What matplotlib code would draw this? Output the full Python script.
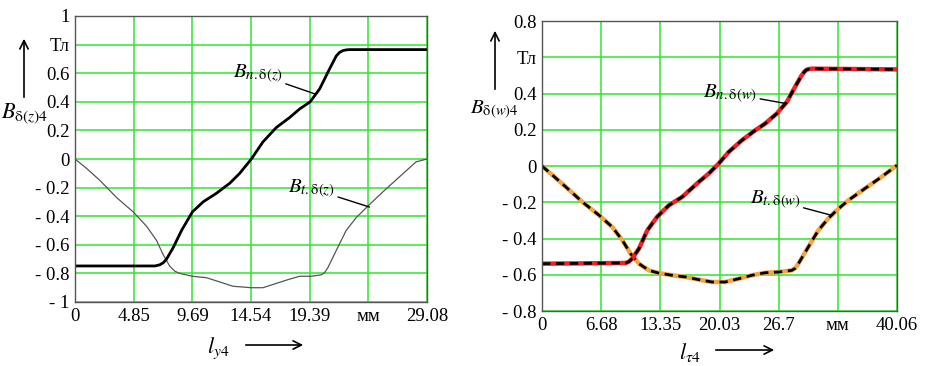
import numpy as np
import matplotlib.pyplot as plt
from matplotlib.patches import FancyArrowPatch

plt.rcParams['font.family'] = ['Liberation Serif', 'DejaVu Serif']
plt.rcParams['mathtext.fontset'] = 'stix'

# ---- left panel data (z) ----
xn_z = [0, 6.60, 7.00, 7.30, 7.56, 8.11, 8.80, 9.70, 10.58, 11.68, 12.78, 13.61, 14.57,
        15.53, 16.63, 17.73, 18.56, 19.43, 20.21, 21.03, 21.58, 21.85, 22.13, 22.40, 22.68, 29.08]
bn_z = [-0.748, -0.748, -0.74, -0.725, -0.70, -0.62, -0.50, -0.37, -0.30, -0.24, -0.17, -0.10, 0.0,
        0.12, 0.22, 0.29, 0.35, 0.40, 0.49, 0.63, 0.72, 0.745, 0.758, 0.763, 0.765, 0.765]

xt_z = [0, 0.96, 2.06, 3.44, 4.81, 5.91, 6.74, 7.29, 7.83, 8.25, 8.66, 9.70, 10.86, 11.96,
        13.06, 14.57, 15.53, 16.63, 17.73, 18.56, 19.52, 20.34, 20.62, 20.89, 21.58, 22.40,
        23.23, 24.25, 25.43, 26.80, 28.18, 29.08]
bt_z = [0.0, -0.066, -0.15, -0.27, -0.37, -0.47, -0.57, -0.67, -0.75, -0.785, -0.80, -0.82,
        -0.83, -0.86, -0.89, -0.90, -0.90, -0.87, -0.84, -0.82, -0.82, -0.81, -0.795, -0.76,
        -0.64, -0.50, -0.41, -0.325, -0.23, -0.125, -0.02, 0.0]

xticks_z = [0, 4.85, 9.69, 14.54, 19.39, 24.23, 29.08]
xticklabels_z = ['0', '4.85', '9.69', '14.54', '19.39', 'мм', '29.08']
yticks_z = [-1, -0.8, -0.6, -0.4, -0.2, 0, 0.2, 0.4, 0.6, 0.8, 1]
yticklabels_z = ['- 1', '- 0.8', '- 0.6', '- 0.4', '- 0.2', '0', '0.2', '0.4', '0.6', 'Тл', '1']

# ---- right panel data (w) ----
xn_w = [0, 9.44, 9.80, 10.19, 10.94, 11.88, 13.00, 14.31, 15.81, 17.69, 18.81, 19.93,
        21.06, 22.56, 24.06, 25.18, 26.49, 27.62, 28.55, 29.30, 29.60, 29.86, 30.15, 30.43, 40.06]
bn_w = [-0.539, -0.535, -0.528, -0.51, -0.456, -0.355, -0.28, -0.217, -0.171, -0.088, -0.042,
        0.013, 0.077, 0.142, 0.197, 0.234, 0.289, 0.353, 0.436, 0.50, 0.52, 0.531, 0.535, 0.537, 0.533]

xt_w = [0, 1.20, 2.70, 4.57, 6.45, 7.94, 9.07, 10.00, 10.94, 12.07, 13.11, 14.69,
        16.19, 17.69, 19.18, 20.68, 22.18, 23.68, 25.18, 26.68, 28.18, 28.55, 28.93, 30.05,
        31.18, 32.30, 33.24, 34.55, 36.42, 38.29, 40.06]
bt_w = [0.0, -0.051, -0.116, -0.199, -0.272, -0.337, -0.41, -0.484, -0.539, -0.576,
        -0.59, -0.603, -0.612, -0.627, -0.64, -0.64, -0.622, -0.603, -0.589, -0.585,
        -0.576, -0.565, -0.539, -0.447, -0.355, -0.29, -0.245, -0.19, -0.125, -0.061, 0.004]

xticks_w = [0, 6.68, 13.35, 20.03, 26.7, 33.38, 40.06]
xticklabels_w = ['0', '6.68', '13.35', '20.03', '26.7', 'мм', '40.06']
yticks_w = [-0.8, -0.6, -0.4, -0.2, 0, 0.2, 0.4, 0.6, 0.8]
yticklabels_w = ['- 0.8', '- 0.6', '- 0.4', '- 0.2', '0', '0.2', '0.4', 'Тл', '0.8']

W, H = 932, 366
fig = plt.figure(figsize=(W / 100, H / 100), dpi=100)


def px_axes(x0, y0, x1, y1):
    # pixel box (top-left origin) -> figure fraction
    return fig.add_axes([x0 / W, 1 - y1 / H, (x1 - x0) / W, (y1 - y0) / H])


def style_axes(ax, xlim, ylim, xt, xtl, yt, ytl):
    ax.set_xlim(*xlim)
    ax.set_ylim(*ylim)
    ax.set_xticks(xt)
    ax.set_xticklabels(xtl)
    ax.set_yticks(yt)
    ax.set_yticklabels(ytl)
    ax.tick_params(length=0, labelsize=13.5, pad=4)
    ax.grid(True, color='#2ee62e', lw=1.1)
    ax.set_axisbelow(True)
    for s in ax.spines.values():
        s.set_color('#555555')
        s.set_linewidth(1.0)


line_kw = dict(arrowstyle='-', color='black', lw=1.0, shrinkA=0, shrinkB=0)

ax1 = px_axes(75, 16, 427, 302)
style_axes(ax1, (0, 29.08), (-1, 1), xticks_z, xticklabels_z, yticks_z, yticklabels_z)
ax1.plot(xt_z, bt_z, color='#555555', lw=0.9)
ax1.plot(xn_z, bn_z, color='black', lw=2.0)
ax1.annotate(r'$B_{n\mathrm{.δ(}z\mathrm{)}}$', xy=(19.93, 0.452), xytext=(17.18, 0.593),
             fontsize=15, ha='right', va='center', arrowprops=line_kw)
ax1.annotate(r'$B_{t\mathrm{.δ(}z\mathrm{)}}$', xy=(24.33, -0.336), xytext=(21.5, -0.207),
             fontsize=15, ha='right', va='center', arrowprops=line_kw)

ax2 = px_axes(542, 21, 897, 311)
style_axes(ax2, (0, 40.06), (-0.8, 0.8), xticks_w, xticklabels_w, yticks_w, yticklabels_w)
ax2.plot(xt_w, bt_w, color='#f5a540', lw=3.2, solid_capstyle='butt')
ax2.plot(xt_w, bt_w, color='black', lw=2.0, ls=(0, (3, 2)))
ax2.plot(xn_w, bn_w, color='#ee2222', lw=3.2, solid_capstyle='butt')
ax2.plot(xn_w, bn_w, color='black', lw=2.0, ls=(0, (3, 2)))
ax2.annotate(r'$B_{n\mathrm{.δ(}w\mathrm{)}}$', xy=(27.6, 0.344), xytext=(24.3, 0.40),
             fontsize=15, ha='right', va='center', arrowprops=line_kw)
ax2.annotate(r'$B_{t\mathrm{.δ(}w\mathrm{)}}$', xy=(32.67, -0.272), xytext=(29.2, -0.189),
             fontsize=15, ha='right', va='center', arrowprops=line_kw)


def ftext(x, y, s, **kw):
    fig.text(x / W, 1 - y / H, s, **kw)


def farrow(x0, y0, x1, y1):
    fig.add_artist(FancyArrowPatch(
        (x0 / W, 1 - y0 / H), (x1 / W, 1 - y1 / H), transform=fig.transFigure,
        arrowstyle='->,head_length=6,head_width=3', color='black', lw=1.2,
        mutation_scale=1))


# axis titles and arrows
ftext(1, 114, r'$B_{\mathrm{δ(}z\mathrm{)4}}$', fontsize=16, ha='left', va='center')
farrow(24, 100, 24, 36)
ftext(218, 348, r'$l_{y\mathrm{4}}$', fontsize=16, ha='center', va='center')
farrow(243, 345, 306, 345)

ftext(470, 110, r'$B_{\mathrm{δ(}w\mathrm{)4}}$', fontsize=15, ha='left', va='center')
farrow(495, 92, 495, 28)
ftext(690, 352, r'$l_{τ\mathrm{4}}$', fontsize=16, ha='center', va='center')
farrow(713, 350, 777, 350)

fig.savefig('out.png', dpi=100)
